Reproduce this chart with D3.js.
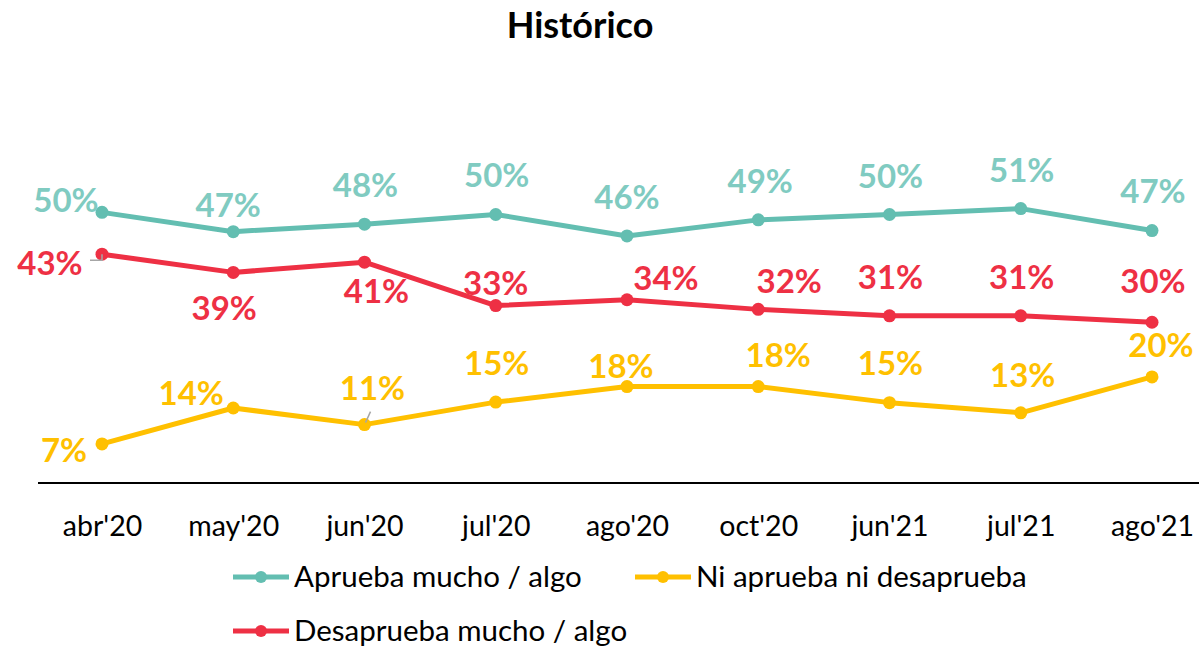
<!DOCTYPE html>
<html>
<head>
<meta charset="utf-8">
<script src="https://cdn.jsdelivr.net/npm/d3@7"></script>
<style>
  body { margin: 0; background: #fff; }
  text { font-family: Lato, "Open Sans", sans-serif; }
</style>
</head>
<body>
<div id="chart"></div>
<script>
// data
let months = ["abr'20", "may'20", "jun'20", "jul'20", "ago'20", "oct'20", "jun'21", "jul'21", "ago'21"];
let aprueba = [50.4, 46.8, 48.2, 50.0, 46.0, 49.0, 50.0, 51.1, 47.0];
let desaprueba = [42.6, 39.2, 41.1, 33.0, 34.1, 32.3, 31.1, 31.1, 29.9];
let ninguno = [7.2, 13.9, 10.8, 15.0, 17.9, 17.9, 14.9, 13.0, 19.7];

let seriesNames = ["Aprueba mucho / algo", "Ni aprueba ni desaprueba", "Desaprueba mucho / algo"];

// label nudges (dx, dy from the point to the label baseline centre)
let offTeal = [[-36, 0], [-5, -15], [1, -27], [1, -28], [0, -27], [2, -27], [1, -27], [1, -27], [1, -28]];
let offRed = [[-52, 21], [-9, 48], [12, 41], [0, -11], [39, -10], [31, -16], [1, -27], [1, -27], [1, -29]];
let offYellow = [[-38, 18], [-42, -3], [8, -25], [1, -27], [-6, -9], [20, -20], [1, -28], [2, -26], [9, -20]];

let W = 1199, H = 648;

let svg = d3.select('#chart').append('svg')
    .attr('width', W)
    .attr('height', H);

let x = d3.scalePoint().domain(months).range([102, 1152]);
let y = d3.scaleLinear().domain([0, 60]).range([482.5, 160.9]);

let series = [
    { name: seriesNames[0], values: aprueba, color: '#63beb1', label: '#80cbc1', off: offTeal },
    { name: seriesNames[2], values: desaprueba, color: '#ee3044', label: '#ee3044', off: offRed },
    { name: seriesNames[1], values: ninguno, color: '#ffc000', label: '#ffc000', off: offYellow }
];

// title
svg.append('text')
    .attr('x', 580)
    .attr('y', 38)
    .attr('text-anchor', 'middle')
    .style('font-size', '36px')
    .style('font-weight', 'bold')
    .text('Histórico');

// x axis
let xAxis = svg.append('g')
    .attr('transform', translate(0, 483))
    .call(d3.axisBottom(x).tickSize(0).tickPadding(53));
xAxis.select('.domain').remove();
xAxis.selectAll('text')
    .style('font-size', '28.5px')
    .style('font-family', 'Lato, sans-serif')
    .attr('fill', '#000')
    .attr('dy', 0);
svg.append('line')
    .attr('x1', 38).attr('x2', W)
    .attr('y1', 483).attr('y2', 483)
    .attr('stroke', '#000')
    .attr('stroke-width', 2);

let line = d3.line()
    .x((d, i) => x(months[i]))
    .y((d) => y(d));

series.forEach((s) => {
    svg.append('path')
        .datum(s.values)
        .attr('fill', 'none')
        .attr('stroke', s.color)
        .attr('stroke-width', 5)
        .attr('stroke-linejoin', 'round')
        .attr('d', line);

    svg.selectAll(null)
        .data(s.values)
        .enter()
        .append('circle')
            .attr('cx', (d, i) => x(months[i]))
            .attr('cy', (d) => y(d))
            .attr('r', 6.5)
            .attr('fill', s.color);
});

// leader lines
let p0 = [x(months[0]), y(desaprueba[0])];
svg.append('polyline')
    .attr('points', [[p0[0] - 12, p0[1] + 6], [p0[0], p0[1] + 6], [p0[0], p0[1]]].join(' '))
    .attr('fill', 'none')
    .attr('stroke', '#a6a6a6')
    .attr('stroke-width', 1.5);
let p2 = [x(months[2]), y(ninguno[2])];
svg.append('line')
    .attr('x1', p2[0] + 6).attr('y1', p2[1] - 13)
    .attr('x2', p2[0] + 1).attr('y2', p2[1] - 2)
    .attr('stroke', '#a6a6a6')
    .attr('stroke-width', 1.5);

// data labels
series.forEach((s) => {
    svg.selectAll(null)
        .data(s.values)
        .enter()
        .append('text')
            .attr('x', (d, i) => x(months[i]) + s.off[i][0])
            .attr('y', (d, i) => y(d) + s.off[i][1])
            .attr('text-anchor', 'middle')
            .attr('fill', s.label)
            .style('font-size', '33px')
            .style('font-weight', 'bold')
            .text((d) => Math.round(d) + '%');
});

// legend
let legendItems = [
    { name: seriesNames[0], color: '#63beb1', x: 233, y: 577 },
    { name: seriesNames[1], color: '#ffc000', x: 635, y: 577 },
    { name: seriesNames[2], color: '#ee3044', x: 233, y: 631 }
];
let legend = svg.append('g');
legendItems.forEach((l) => {
    let g = legend.append('g').attr('transform', translate(l.x, l.y));
    g.append('line')
        .attr('x1', 0).attr('x2', 56)
        .attr('stroke', l.color)
        .attr('stroke-width', 5);
    g.append('circle')
        .attr('cx', 28)
        .attr('r', 6)
        .attr('fill', l.color);
    g.append('text')
        .attr('x', 61)
        .attr('y', 10)
        .style('font-size', '29.5px')
        .text(l.name);
});

// helper method to make translating easier
function translate(x, y) {
    return 'translate(' + x + ',' + y + ')';
}
</script>
</body>
</html>
